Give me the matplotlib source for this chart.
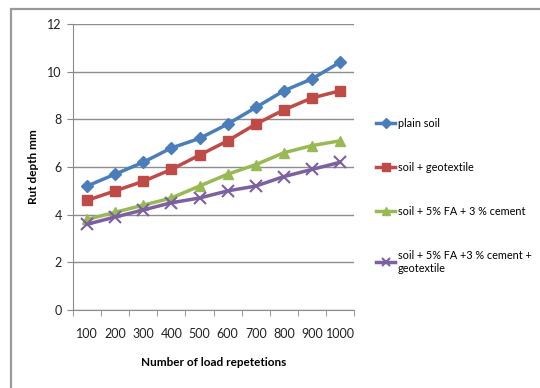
import numpy as np
import matplotlib.pyplot as plt

plt.rcParams['font.family'] = ['Lato', 'DejaVu Sans']

repeticiones = ['100', '200', '300', '400', '500', '600', '700', '800', '900', '1000']
plain_soil = [5.2, 5.7, 6.2, 6.8, 7.2, 7.8, 8.5, 9.2, 9.7, 10.4]
soil_geo = [4.6, 5.0, 5.4, 5.9, 6.5, 7.1, 7.8, 8.4, 8.9, 9.2]
soil_fa = [3.8, 4.1, 4.4, 4.7, 5.2, 5.7, 6.1, 6.6, 6.9, 7.1]
soil_fa_geo = [3.6, 3.9, 4.2, 4.5, 4.7, 5.0, 5.2, 5.6, 5.9, 6.2]

etiquetas = ['plain soil', 'soil + geotextile', 'soil + 5% FA + 3 % cement',
             'soil + 5% FA +3 % cement +\ngeotextile']

fig = plt.figure(figsize=(5.4, 3.88), dpi=100)
ax = fig.add_axes([0.135, 0.201, 0.521, 0.737])

# marco gris (arriba e izquierda), en coordenadas de la figura
ax.plot([0.021, 0.021, 1.0], [0.0, 0.978, 0.978], transform=fig.transFigure,
        color='#9a9a9a', lw=1.6, clip_on=False, solid_joinstyle='miter')

x = np.arange(len(repeticiones))
ax.plot(x, plain_soil, color='#4a7ebb', lw=2.5, marker='D', ms=6, label=etiquetas[0])
ax.plot(x, soil_geo, color='#be4b48', lw=2.5, marker='s', ms=7, label=etiquetas[1])
ax.plot(x, soil_fa, color='#98b954', lw=2.5, marker='^', ms=7.5, label=etiquetas[2])
ax.plot(x, soil_fa_geo, color='#7d60a0', lw=2.5, marker='x', ms=8, mew=1.5, label=etiquetas[3])

ax.set_xlim(-0.5, len(repeticiones) - 0.5)
ax.set_ylim(0, 12)
ax.set_yticks([0, 2, 4, 6, 8, 10, 12])
ax.set_xticks(x)
ax.set_xticklabels(repeticiones)
# marcas de categoria entre los puntos
ax.set_xticks(np.arange(-0.5, len(repeticiones)), minor=True)
ax.tick_params(axis='x', which='major', length=0, pad=13, labelsize=9, labelcolor='#222222')
ax.tick_params(axis='x', which='minor', length=4, color='#888888')
ax.tick_params(axis='y', length=4, color='#888888', labelsize=9, labelcolor='#222222', pad=4)

ax.grid(axis='y', color='#8c8c8c', lw=1)
ax.set_axisbelow(True)
for s in ['top', 'right']:
    ax.spines[s].set_visible(False)
for s in ['left', 'bottom']:
    ax.spines[s].set_color('#8c8c8c')

ax.set_xlabel('Number of load repetetions', fontsize=8.5, fontweight='bold', labelpad=12)
ax.set_ylabel('Rut depth mm', fontsize=8.5, fontweight='bold', labelpad=6)

fig.legend(loc='upper left', bbox_to_anchor=(0.688, 0.708), frameon=False,
           fontsize=7.8, handlelength=1.8, handletextpad=0.2, labelspacing=3.05,
           borderaxespad=0, markerscale=0.8)

fig.savefig('out.png', dpi=100)
